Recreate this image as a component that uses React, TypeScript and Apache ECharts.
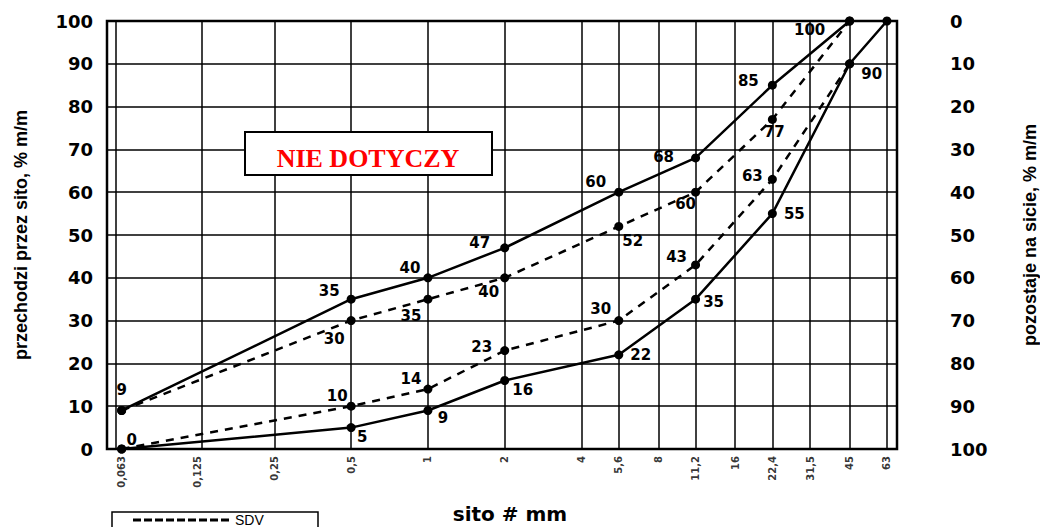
import React, { useEffect, useRef } from 'react';
import * as echarts from 'echarts';

// Sieve sizes (mm) and their printed labels
const sieveSizes = [0.063, 0.125, 0.25, 0.5, 1, 2, 4, 5.6, 8, 11.2, 16, 22.4, 31.5, 45, 63];
const sieveLabels = ['0,063', '0,125', '0,25', '0,5', '1', '2', '4', '5,6', '8', '11,2', '16', '22,4', '31,5', '45', '63'];

// Upper limit curve (solid)
const upperSieves = [0.063, 0.5, 1, 2, 5.6, 11.2, 22.4, 45];
const upperLimit = [9, 35, 40, 47, 60, 68, 85, 100];
// Lower limit curve (solid)
const lowerSieves = [0.063, 0.5, 1, 2, 5.6, 11.2, 22.4, 45, 63];
const lowerLimit = [0, 5, 9, 16, 22, 35, 55, 90, 100];
// SDV upper (dashed)
const sdvUpperSieves = [0.063, 0.5, 1, 2, 5.6, 11.2, 22.4, 45];
const sdvUpper = [9, 30, 35, 40, 52, 60, 77, 100];
// SDV lower (dashed)
const sdvLowerSieves = [0.063, 0.5, 1, 2, 5.6, 11.2, 22.4, 45];
const sdvLower = [0, 10, 14, 23, 30, 43, 63, 90];

// Label offsets (style only), null = no label
const upperLabelOffsets: (number[] | null)[] = [[0, -20], [-22, -8], [-18, -10], [-25, -5], [-23, -10], [-32, -1], [-24, -4], [-40, 9]];
const lowerLabelOffsets: (number[] | null)[] = [[10, -9], [11, 9], [15, 8], [18, 9], [22, 0], [18, 3], [22, 0], [22, 10], null];
const sdvUpperLabelOffsets: (number[] | null)[] = [null, [-17, 18], [-17, 17], [-16, 14], [14, 15], [-10, 12], [2, 13], null];
const sdvLowerLabelOffsets: (number[] | null)[] = [null, [-14, -10], [-17, -10], [-23, -4], [-18, -12], [-19, -8], [-20, -3], null];

const LABEL_FONT = '"DejaVu Sans", sans-serif';

function buildData(xs: number[], ys: number[], offs: (number[] | null)[]) {
  return xs.map((x, i) => {
    const o = offs[i];
    return {
      value: [x, ys[i]],
      label: o ? { show: true, offset: o } : { show: false },
    };
  });
}

function lineSeries(name: string, xs: number[], ys: number[], offs: (number[] | null)[], dashed: boolean, extra: any = {}) {
  return {
    name,
    type: 'line',
    data: buildData(xs, ys, offs),
    symbol: 'circle',
    symbolSize: 9,
    showAllSymbol: true,
    itemStyle: { color: '#000' },
    lineStyle: { color: '#000', width: 2.5, type: dashed ? [8, 7] : 'solid' },
    label: {
      show: true,
      position: 'inside',
      formatter: (p: any) => String(p.value[1]),
      fontFamily: LABEL_FONT,
      fontWeight: 'bold',
      fontSize: 15,
      color: '#000',
    },
    z: 5,
    ...extra,
  };
}

export default function App() {
  const ref = useRef<HTMLDivElement>(null);
  useEffect(() => {
    if (!ref.current) return;
    const chart = echarts.init(ref.current, undefined, { renderer: 'svg' });
    const option: any = {
      animation: false,
      backgroundColor: '#fff',
      grid: {
        left: 107, right: 143, top: 21, bottom: 78,
        show: true, borderColor: '#000', borderWidth: 2.5,
        outerBoundsMode: 'none', containLabel: false,
      },
      xAxis: {
        type: 'log',
        logBase: 10,
        min: 0.0552,
        max: 69,
        axisLine: { show: false },
        axisTick: { show: false },
        axisLabel: { show: false },
        splitLine: { show: false },
        name: 'sito # mm',
        nameLocation: 'middle',
        nameGap: 55,
        nameTextStyle: { fontFamily: LABEL_FONT, fontWeight: 'bold', fontSize: 20, color: '#000', padding: [0, 0, 0, 16] },
      },
      yAxis: [
        {
          type: 'value',
          min: 0,
          max: 100,
          interval: 10,
          position: 'left',
          axisLine: { show: false },
          axisTick: { show: false },
          splitLine: { show: true, lineStyle: { color: '#000', width: 1.5 } },
          axisLabel: { margin: 14, fontFamily: LABEL_FONT, fontWeight: 'bold', fontSize: 18, color: '#000' },
          name: 'przechodzi przez sito, % m/m',
          nameLocation: 'middle',
          nameRotate: 90,
          nameGap: 77,
          nameTextStyle: { fontFamily: '"Liberation Sans", Arial, sans-serif', fontWeight: 'bold', fontSize: 18, color: '#000' },
        },
        {
          type: 'value',
          min: 0,
          max: 100,
          interval: 10,
          inverse: true,
          position: 'right',
          axisLine: { show: false },
          axisTick: { show: false },
          splitLine: { show: false },
          axisLabel: { margin: 53, fontFamily: LABEL_FONT, fontWeight: 'bold', fontSize: 18, color: '#000' },
          name: 'pozostaje na sicie, % m/m',
          nameLocation: 'middle',
          nameRotate: 90,
          nameGap: 124,
          nameTextStyle: { fontFamily: '"Liberation Sans", Arial, sans-serif', fontWeight: 'bold', fontSize: 18, color: '#000' },
        },
      ],
      series: [
        lineSeries('Górna granica', upperSieves, upperLimit, upperLabelOffsets, false, {
          markLine: {
            silent: true,
            symbol: 'none',
            label: { show: false },
            lineStyle: { color: '#000', width: 1.5, type: 'solid' },
            data: sieveSizes.map((s) => ({ xAxis: s })),
            z: 1,
          },
        }),
        lineSeries('Dolna granica', lowerSieves, lowerLimit, lowerLabelOffsets, false),
        lineSeries('SDV', sdvUpperSieves, sdvUpper, sdvUpperLabelOffsets, true),
        lineSeries('SDV', sdvLowerSieves, sdvLower, sdvLowerLabelOffsets, true),
        {
          name: 'sita',
          type: 'scatter',
          silent: true,
          symbolSize: 0,
          clip: false,
          data: sieveSizes.map((s, i) => ({ value: [s, 0], name: sieveLabels[i] })),
          label: {
            show: true,
            formatter: '{b}',
            position: 'bottom',
            distance: 7,
            rotate: 90,
            align: 'right',
            verticalAlign: 'middle',
            fontFamily: LABEL_FONT,
            fontWeight: 'bold',
            fontSize: 10,
            color: '#000',
          },
        },
      ],
      graphic: [
        {
          type: 'rect',
          z: 100,
          shape: { x: 245, y: 132, width: 247, height: 43 },
          style: { fill: '#fff', stroke: '#000', lineWidth: 2 },
        },
        {
          type: 'text',
          z: 101,
          x: 368,
          y: 158,
          style: {
            text: 'NIE DOTYCZY',
            fill: '#ff0000',
            font: 'bold 26px "Liberation Serif", "Times New Roman", serif',
            textAlign: 'center',
            textVerticalAlign: 'middle',
            verticalAlign: 'middle',
          },
        },
        {
          type: 'rect',
          z: 102,
          silent: true,
          shape: { x: 250, y: 167, width: 237, height: 6 },
          style: { fill: '#fff', lineWidth: 0 },
        },
        {
          type: 'rect',
          z: 100,
          shape: { x: 112, y: 512, width: 206, height: 30 },
          style: { fill: '#fff', stroke: '#000', lineWidth: 1.5 },
        },
        {
          type: 'line',
          z: 101,
          shape: { x1: 133, y1: 520, x2: 232, y2: 520 },
          style: { stroke: '#000', lineWidth: 3, lineDash: [8, 3] },
        },
        {
          type: 'text',
          z: 101,
          x: 235,
          y: 520,
          style: {
            text: 'SDV',
            fill: '#000',
            font: '14px "Liberation Sans", Arial, sans-serif',
            textAlign: 'left',
            textVerticalAlign: 'middle',
            verticalAlign: 'middle',
          },
        },
      ],
    };
    chart.setOption(option);
    return () => chart.dispose();
  }, []);
  return <div ref={ref} style={{ position: 'absolute', left: 0, top: 0, width: 1040, height: 527 }} />;
}
